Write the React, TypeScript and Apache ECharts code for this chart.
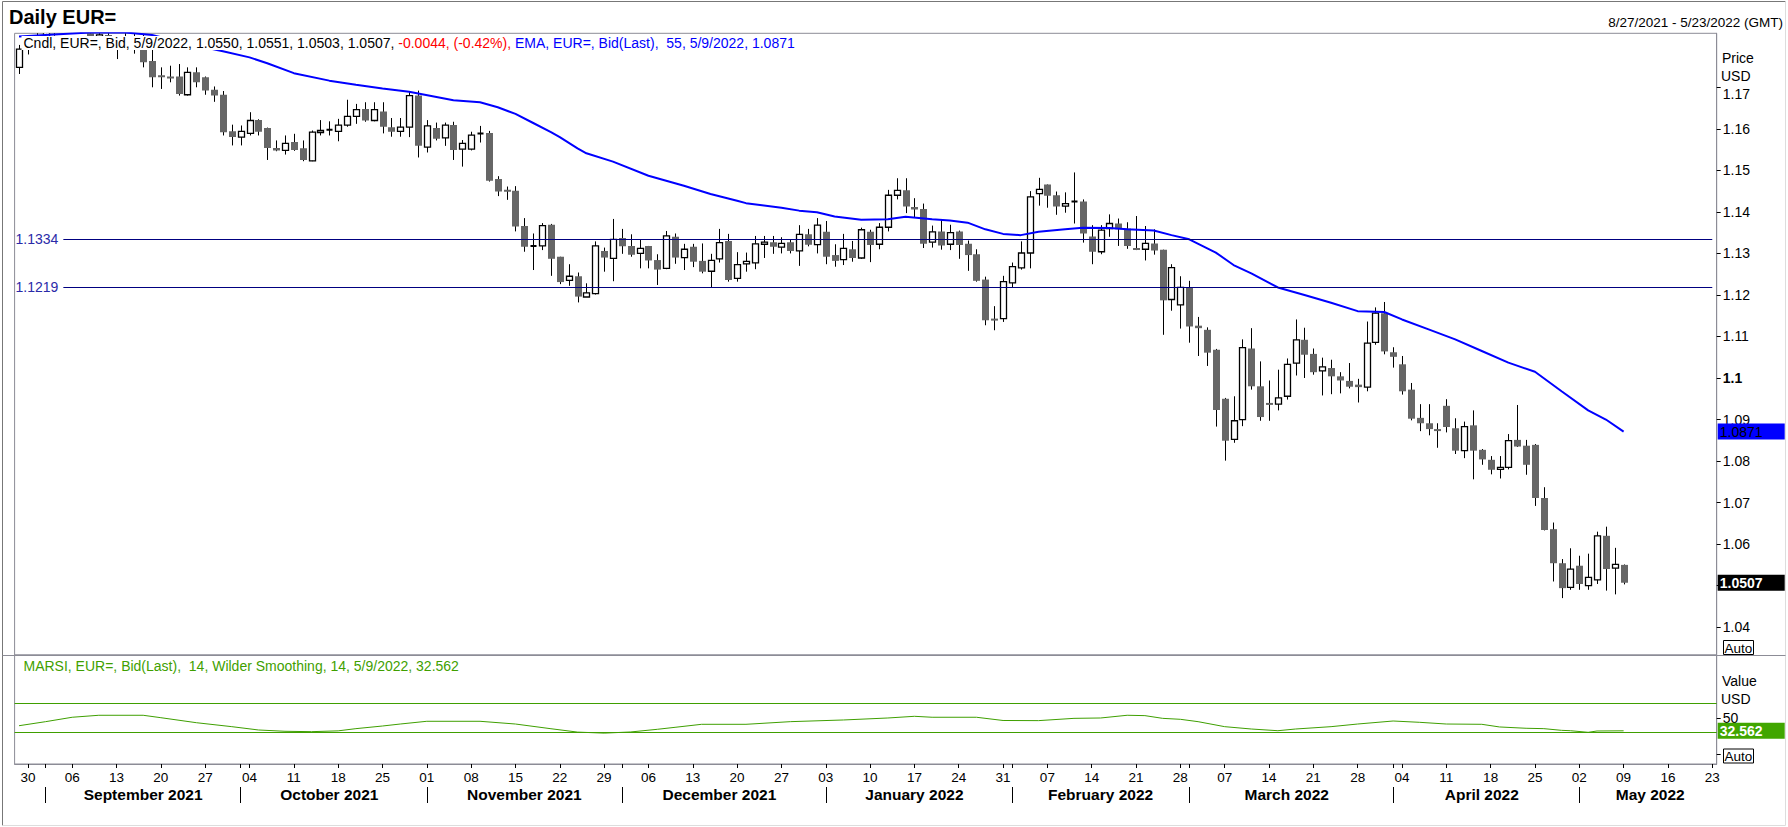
import React, { useEffect, useRef } from "react";
import * as echarts from "echarts";

const FONT = '"Liberation Sans", Arial, sans-serif';

// Trading-day categories (weekdays) from 8/27/2021 to 5/23/2022
function buildDates(): string[] {
  const out: string[] = [];
  const d = new Date(Date.UTC(2021, 7, 27));
  const end = Date.UTC(2022, 4, 23);
  while (d.getTime() <= end) {
    const wd = d.getUTCDay();
    if (wd !== 0 && wd !== 6) out.push(d.toISOString().slice(0, 10));
    d.setUTCDate(d.getUTCDate() + 1);
  }
  return out;
}
const dates = buildDates();

const open = [
  1.1748,1.1795,1.1799,1.1807,1.1837,1.1874,1.1881,1.1871,1.1840,1.1818,
  1.1826,1.1812,1.1806,1.1805,1.1820,1.1763,1.1729,1.1726,1.1726,1.1682,
  1.1736,1.1724,1.1694,1.1682,1.1594,1.1580,1.1589,1.1621,1.1602,1.1554,
  1.1548,1.1568,1.1553,1.1523,1.1592,1.1598,1.1594,1.1609,1.1630,1.1648,
  1.1620,1.1642,1.1604,1.1594,1.1604,1.1680,1.1556,1.1602,1.1578,1.1609,
  1.1551,1.1551,1.1589,1.1590,1.1479,1.1453,1.1451,1.1366,1.1318,1.1318,
  1.1369,1.1292,1.1235,1.1245,1.1195,1.1203,1.1306,1.1288,1.1337,1.1318,
  1.1300,1.1318,1.1284,1.1264,1.1340,1.1290,1.1316,1.1282,1.1257,1.1287,
  1.1330,1.1240,1.1275,1.1277,1.1322,1.1327,1.1315,1.1327,1.1306,1.1346,
  1.1321,1.1352,1.1296,1.1285,1.1310,1.1289,1.1352,1.1322,1.1363,1.1440,
  1.1452,1.1412,1.1407,1.1327,1.1353,1.1322,1.1353,1.1323,1.1298,1.1237,
  1.1143,1.1143,1.1229,1.1265,1.1301,1.1444,1.1466,1.1440,1.1414,1.1425,
  1.1425,1.1341,1.1304,1.1360,1.1372,1.1360,1.1313,1.1310,1.1324,1.1309,
  1.1189,1.1176,1.1218,1.1126,1.1116,1.1068,1.0950,1.0852,1.0900,1.1071,
  1.0980,1.0940,1.0937,1.0956,1.1036,1.1092,1.1058,1.1017,1.1024,1.1004,
  1.0993,1.0984,1.0978,1.1086,1.1156,1.1062,1.1033,1.0972,1.0904,1.0891,
  1.0877,1.0933,1.0879,1.0825,1.0886,1.0827,1.0803,1.0780,1.0785,1.0851,
  1.0837,1.0839,1.0711,1.0636,1.0554,1.0496,1.0548,1.0500,1.0514,1.0620,
  1.0542,1.0550,
];
const high = [
  1.1802,1.1810,1.1846,1.1857,1.1877,1.1909,1.1887,1.1875,1.1848,1.1844,
  1.1846,1.1815,1.1846,1.1830,1.1826,1.1790,1.1748,1.1752,1.1756,1.1748,
  1.1748,1.1726,1.1702,1.1691,1.1610,1.1608,1.1640,1.1623,1.1603,1.1572,
  1.1584,1.1588,1.1572,1.1596,1.1621,1.1618,1.1624,1.1670,1.1660,1.1664,
  1.1664,1.1664,1.1626,1.1626,1.1690,1.1692,1.1621,1.1615,1.1615,1.1617,
  1.1573,1.1593,1.1607,1.1595,1.1486,1.1461,1.1462,1.1385,1.1348,1.1373,
  1.1371,1.1292,1.1274,1.1254,1.1228,1.1329,1.1314,1.1383,1.1359,1.1346,
  1.1334,1.1318,1.1298,1.1354,1.1348,1.1323,1.1323,1.1324,1.1299,1.1359,
  1.1347,1.1303,1.1302,1.1342,1.1342,1.1342,1.1339,1.1333,1.1368,1.1359,
  1.1385,1.1378,1.1322,1.1347,1.1330,1.1362,1.1357,1.1373,1.1453,1.1481,
  1.1481,1.1433,1.1420,1.1367,1.1380,1.1369,1.1355,1.1331,1.1310,1.1244,
  1.1173,1.1246,1.1278,1.1329,1.1450,1.1482,1.1466,1.1449,1.1447,1.1495,
  1.1430,1.1368,1.1368,1.1394,1.1384,1.1375,1.1390,1.1366,1.1358,1.1309,
  1.1274,1.1245,1.1234,1.1147,1.1122,1.1070,1.0952,1.0956,1.1093,1.1120,
  1.1040,1.0994,1.1020,1.1047,1.1141,1.1121,1.1071,1.1049,1.1044,1.1014,
  1.1036,1.0998,1.1136,1.1170,1.1183,1.1074,1.1053,1.0988,1.0937,1.0937,
  1.0891,1.0949,1.0903,1.0895,1.0922,1.0829,1.0812,1.0812,1.0865,1.0935,
  1.0851,1.0841,1.0737,1.0652,1.0564,1.0590,1.0572,1.0577,1.0630,1.0642,
  1.0591,1.0551,
];
const low = [
  1.1732,1.1779,1.1790,1.1801,1.1824,1.1862,1.1858,1.1834,1.1802,1.1802,
  1.1808,1.1768,1.1797,1.1781,1.1748,1.1700,1.1696,1.1712,1.1680,1.1680,
  1.1700,1.1682,1.1665,1.1584,1.1560,1.1560,1.1584,1.1584,1.1525,1.1546,
  1.1538,1.1547,1.1522,1.1522,1.1584,1.1584,1.1570,1.1605,1.1612,1.1617,
  1.1618,1.1589,1.1581,1.1581,1.1580,1.1531,1.1543,1.1572,1.1559,1.1525,
  1.1509,1.1548,1.1567,1.1473,1.1438,1.1429,1.1353,1.1304,1.1260,1.1308,
  1.1246,1.1226,1.1222,1.1182,1.1195,1.1201,1.1256,1.1233,1.1299,1.1292,
  1.1264,1.1264,1.1224,1.1262,1.1275,1.1260,1.1267,1.1252,1.1219,1.1278,
  1.1232,1.1232,1.1256,1.1262,1.1289,1.1299,1.1300,1.1300,1.1270,1.1317,
  1.1300,1.1274,1.1268,1.1272,1.1280,1.1287,1.1279,1.1310,1.1353,1.1430,
  1.1397,1.1387,1.1313,1.1314,1.1309,1.1308,1.1287,1.1258,1.1232,1.1127,
  1.1115,1.1135,1.1218,1.1261,1.1264,1.1415,1.1410,1.1393,1.1398,1.1372,
  1.1326,1.1274,1.1298,1.1340,1.1318,1.1311,1.1308,1.1283,1.1297,1.1104,
  1.1162,1.1119,1.1085,1.1053,1.1029,1.0883,1.0801,1.0844,1.0884,1.0972,
  1.0897,1.0897,1.0922,1.0948,1.1006,1.1000,1.1008,1.0958,1.0961,1.0963,
  1.0975,1.0941,1.0968,1.1080,1.1057,1.1025,1.0960,1.0898,1.0872,1.0862,
  1.0832,1.0869,1.0817,1.0807,1.0756,1.0791,1.0768,1.0758,1.0780,1.0834,
  1.0767,1.0692,1.0633,1.0510,1.0470,1.0490,1.0490,1.0490,1.0504,1.0488,
  1.0479,1.0503,
];
const close = [
  1.1792,1.1799,1.1807,1.1837,1.1874,1.1881,1.1871,1.1840,1.1818,1.1826,
  1.1813,1.1806,1.1805,1.1820,1.1760,1.1724,1.1724,1.1722,1.1684,1.1736,
  1.1712,1.1692,1.1680,1.1592,1.1580,1.1594,1.1620,1.1593,1.1554,1.1548,
  1.1565,1.1549,1.1525,1.1592,1.1596,1.1598,1.1609,1.1630,1.1646,1.1620,
  1.1646,1.1605,1.1593,1.1604,1.1680,1.1559,1.1607,1.1576,1.1609,1.1549,
  1.1565,1.1585,1.1589,1.1475,1.1449,1.1450,1.1365,1.1316,1.1318,1.1367,
  1.1287,1.1231,1.1245,1.1196,1.1205,1.1318,1.1290,1.1334,1.1317,1.1297,
  1.1312,1.1283,1.1261,1.1342,1.1290,1.1310,1.1280,1.1256,1.1283,1.1326,
  1.1236,1.1273,1.1281,1.1323,1.1327,1.1316,1.1324,1.1306,1.1346,1.1321,
  1.1368,1.1292,1.1282,1.1312,1.1289,1.1357,1.1320,1.1363,1.1440,1.1452,
  1.1413,1.1406,1.1323,1.1352,1.1319,1.1350,1.1320,1.1296,1.1234,1.1139,
  1.1139,1.1232,1.1268,1.1301,1.1436,1.1454,1.1439,1.1413,1.1420,1.1425,
  1.1348,1.1304,1.1356,1.1372,1.1358,1.1318,1.1310,1.1324,1.1307,1.1187,
  1.1266,1.1218,1.1124,1.1120,1.1061,1.0923,1.0849,1.0897,1.1073,1.0980,
  1.0906,1.0939,1.0952,1.1033,1.1092,1.1056,1.1014,1.1027,1.1004,1.0994,
  1.0979,1.0978,1.1084,1.1156,1.1064,1.1051,1.0968,1.0902,1.0891,1.0877,
  1.0875,1.0882,1.0825,1.0883,1.0825,1.0804,1.0779,1.0785,1.0849,1.0835,
  1.0791,1.0711,1.0634,1.0554,1.0494,1.0540,1.0504,1.0520,1.0620,1.0540,
  1.0551,1.0507,
];

// EMA(55) at these bar indices
const emaIdx = [0,4,8,12,15,18,21,23,26,28,31,35,38,41,44,49,52,54,56,58,60,61,63,64,67,71,73,75,78,81,82,86,88,90,92,95,98,100,103,105,107,109,111,113,115,118,120,123,125,128,130,132,135,137,139,142,145,148,151,154,156,159,162,165,168,171,174,177,179,181];
const emaVal = [1.1822,1.1827,1.1832,1.1832,1.1826,1.1810,1.1796,1.1787,1.1772,1.1758,1.1734,1.1716,1.1706,1.1697,1.1689,1.1669,1.1664,1.1652,1.1636,1.1614,1.1592,1.1580,1.1553,1.1541,1.1521,1.1487,1.1475,1.1463,1.1443,1.1427,1.1421,1.1410,1.1403,1.1399,1.1389,1.1381,1.1382,1.1388,1.1382,1.1379,1.1374,1.1358,1.1347,1.1344,1.1352,1.1358,1.1362,1.1361,1.1358,1.1355,1.1344,1.1334,1.1302,1.1272,1.1252,1.1218,1.1200,1.1181,1.1161,1.1159,1.1141,1.1117,1.1093,1.1065,1.1037,1.1015,1.0968,1.0922,1.0900,1.0871];

// MARSI
const rsiIdx = [0,3,6,9,14,16,20,24,27,30,33,36,38,41,43,46,52,56,60,63,66,69,72,74,77,82,87,93,98,101,103,108,111,115,119,122,125,127,129,131,133,136,139,142,144,148,151,155,158,161,165,167,170,172,174,175,177,178,181];
const rsiVal = [39.5,45,51,53.7,53.7,50.4,43.6,38.2,33.7,31.9,31.4,32.5,35.5,39.1,41.8,45.5,45.5,41.8,35.4,30.8,29.4,31,34.6,37.3,41.4,41.4,45,47.3,50,52.3,51,51,46.6,46.4,49.5,50,53.7,53.2,49.5,48.2,45,38.2,35,32.7,35,38.2,41.8,45.9,44.1,41.8,41.4,37.8,36,35.5,33.2,32.7,30.5,32.3,32.562];

const priceTicks = [1.04,1.05,1.06,1.07,1.08,1.09,1.10,1.11,1.12,1.13,1.14,1.15,1.16,1.17];
const priceLabels = [1.04,1.06,1.07,1.08,1.09,1.10,1.11,1.12,1.13,1.14,1.15,1.16,1.17];
const refLevels = [1.1334, 1.1219];
const rsiLevels = [70, 30];
const rsiTicks = [0, 50];
const rsiLabels = [50];

const monthNames = ["January","February","March","April","May","June","July","August","September","October","November","December"];

const FRAME = "#8c8c96";
const GREEN = "#3f9f00";
const CLEAR = "rgba(0,0,0,0)";

function usDate(iso: string) {
  const [y, m, d] = iso.split("-");
  return `${+m}/${+d}/${y}`;
}

function buildOption() {
  const n = close.length;
  const last = n - 1;
  const isMonday = (i: number) => new Date(dates[i] + "T00:00:00Z").getUTCDay() === 1;
  const isMonthFirst = (i: number) => i > 0 && dates[i].slice(0, 7) !== dates[i - 1].slice(0, 7);
  // middle trading day of each month (for month captions)
  const monthMid = new Set<number>();
  let s = 0;
  for (let i = 1; i <= dates.length; i++) {
    if (i === dates.length || dates[i].slice(0, 7) !== dates[s].slice(0, 7)) {
      const cnt = i - s;
      if (cnt >= 5) monthMid.add(s + Math.floor(cnt / 2));
      s = i;
    }
  }

  const chg = close[last] - close[last - 1];
  const pct = (chg / close[last - 1]) * 100;
  const lastDate = usDate(dates[last]);
  const emaLast = emaVal[emaVal.length - 1];
  const rsiLast = rsiVal[rsiVal.length - 1];

  const candleData = open.map((o, i) => [i, o, close[i], low[i], high[i]]);

  const txt = (c: string) => ({ color: c, fontSize: 14, fontFamily: FONT, lineHeight: 15 });

  const boxLabel = (text: string, bg: string, fg: string, bold: boolean) => ({
    show: true, position: "end", distance: 1, formatter: text,
    backgroundColor: bg, color: fg, fontWeight: bold ? "bold" : "normal", fontSize: 14, fontFamily: FONT,
    width: 62, padding: [1, 3, 0, 2], lineHeight: 15,
  });

  return {
    animation: false,
    backgroundColor: "#fff",
    textStyle: { fontFamily: FONT },
    title: [
      { text: "Daily EUR=", left: 9, top: 7, padding: 0, textStyle: { fontSize: 20, fontWeight: "bold", color: "#000", fontFamily: FONT } },
      { text: `${usDate(dates[0])} - ${usDate(dates[dates.length - 1])} (GMT)`, right: 5, top: 15, padding: 0, textStyle: { fontSize: 13.5, fontWeight: "normal", color: "#000", fontFamily: FONT } },
      {
        text:
          `{k|Cndl, EUR=, Bid, ${lastDate}, ${open[last].toFixed(4)}, ${high[last].toFixed(4)}, ${low[last].toFixed(4)}, ${close[last].toFixed(4)}, }` +
          `{r|${chg.toFixed(4)}, (${pct.toFixed(2)}%), }` +
          `{b|EMA, EUR=, Bid(Last),  55, ${lastDate}, ${emaLast.toFixed(4)}}`,
        left: 21.5, top: 35.5, padding: [0, 2], backgroundColor: "#fff",
        textStyle: { fontSize: 14, fontWeight: "normal", fontFamily: FONT, rich: { k: txt("#000"), r: txt("#ff0000"), b: txt("#0000ff") } },
      },
      {
        text: `MARSI, EUR=, Bid(Last),  14, Wilder Smoothing, 14, ${lastDate}, ${rsiLast.toFixed(3)}`,
        left: 23.5, top: 658.5, padding: 0,
        textStyle: { fontSize: 14, fontWeight: "normal", color: GREEN, fontFamily: FONT },
      },
    ],
    grid: [
      { left: 14.6, width: 1702.1, top: 33.3, height: 621.7, show: true, borderColor: FRAME, borderWidth: 1, backgroundColor: "transparent" },
      { left: 14.6, width: 1702.1, top: 655, height: 109, show: true, borderColor: FRAME, borderWidth: 1, backgroundColor: "transparent" },
    ],
    xAxis: [
      {
        gridIndex: 0, type: "category", data: dates, boundaryGap: true, position: "bottom", offset: 132,
        axisLine: { show: false, onZero: false },
        axisTick: { show: true, alignWithLabel: true, interval: (i: number) => isMonthFirst(i), length: 16, lineStyle: { color: "#000" } },
        axisLabel: {
          show: true, interval: (i: number) => monthMid.has(i), margin: -1,
          formatter: (v: string) => `${monthNames[+v.slice(5, 7) - 1]} ${v.slice(0, 4)}`,
          fontSize: 15.5, fontWeight: "bold", color: "#000", fontFamily: FONT,
        },
        splitLine: { show: false },
      },
      {
        gridIndex: 1, type: "category", data: dates, boundaryGap: true, position: "bottom",
        axisLine: { show: true, onZero: false, lineStyle: { color: FRAME } },
        axisTick: { show: true, alignWithLabel: true, interval: (i: number) => isMonday(i) || isMonthFirst(i), length: 4, lineStyle: { color: "#000" } },
        axisLabel: { show: true, interval: (i: number) => isMonday(i), formatter: (v: string) => v.slice(8, 10), margin: 6, fontSize: 13.5, color: "#000", fontFamily: FONT },
        splitLine: { show: false },
      },
    ],
    yAxis: [
      {
        gridIndex: 0, type: "value", position: "right", min: 1.0333, max: 1.183,
        axisLine: { show: true, lineStyle: { color: FRAME } },
        axisTick: { show: true, length: 4, customValues: priceTicks, lineStyle: { color: "#000" } },
        axisLabel: {
          show: true, customValues: priceLabels, margin: 6, color: "#000", fontSize: 14, fontFamily: FONT, lineHeight: 14,
          formatter: (v: number) => {
            const t = String(Number(v.toFixed(2)));
            if (t === "1.1") return `{b|${t}}`;
            if (t === "1.17") return `\n${t}`;
            return t;
          },
          rich: { b: { fontWeight: "bold", fontSize: 14, color: "#000", fontFamily: FONT, lineHeight: 14 } },
        },
        splitLine: { show: false },
      },
      {
        gridIndex: 1, type: "value", position: "right", min: -12.6, max: 135.7,
        axisLine: { show: true, lineStyle: { color: FRAME } },
        axisTick: { show: true, length: 4, customValues: rsiTicks, lineStyle: { color: "#000" } },
        axisLabel: { show: true, customValues: rsiLabels, margin: 6, color: "#000", fontSize: 14, fontFamily: FONT },
        splitLine: { show: false },
      },
    ],
    series: [
      {
        type: "custom", name: "Cndl", xAxisIndex: 0, yAxisIndex: 0, clip: true,
        data: candleData,
        encode: { x: 0, y: [1, 2, 3, 4] },
        renderItem: (params: any, api: any) => {
          const i = api.value(0);
          const o = api.value(1), c = api.value(2), l = api.value(3), h = api.value(4);
          const pO = api.coord([i, o]);
          const pC = api.coord([i, c]);
          const pL = api.coord([i, l]);
          const pH = api.coord([i, h]);
          const x = Math.round(pO[0]) + 0.5;
          const bw = Math.round(api.size([1, 0])[0] * 0.72);
          const top = Math.min(pO[1], pC[1]);
          const bot = Math.max(pO[1], pC[1]);
          const children: any[] = [
            { type: "line", shape: { x1: x, y1: pH[1], x2: x, y2: pL[1] }, style: { stroke: "#000", lineWidth: 1 } },
          ];
          if (c === o) {
            children.push({ type: "line", shape: { x1: x - bw / 2, y1: top, x2: x + bw / 2, y2: top }, style: { stroke: "#000", lineWidth: 2 } });
          } else if (c > o) {
            children.push({ type: "rect", shape: { x: x - bw / 2, y: top, width: bw, height: Math.max(bot - top, 2) }, style: { fill: "#fff", stroke: "#000", lineWidth: 1.3 } });
          } else {
            children.push({ type: "rect", shape: { x: x - bw / 2 - 0.5, y: top, width: bw + 1, height: Math.max(bot - top, 2) }, style: { fill: "#666666" } });
          }
          return { type: "group", children };
        },
        z: 3,
      },
      {
        type: "line", name: "EMA", xAxisIndex: 0, yAxisIndex: 0,
        data: emaIdx.map((i, k) => [i, emaVal[k]]),
        symbol: "none", clip: true,
        lineStyle: { color: "#0000ff", width: 2 },
        z: 4,
        markLine: {
          silent: true, symbol: ["none", "none"], animation: false, precision: 4,
          data: [
            ...refLevels.map((v) => [
              {
                xAxis: 5, yAxis: v,
                lineStyle: { color: "#000080", width: 1, type: "solid" },
                label: { show: true, position: "start", distance: 5, formatter: v.toFixed(4), color: "#2a2aa8", fontSize: 14, fontFamily: FONT },
              },
              { xAxis: dates.length - 1, yAxis: v },
            ]),
            { yAxis: emaLast, lineStyle: { color: CLEAR, width: 1, type: "solid" }, label: boxLabel(emaLast.toFixed(4), "#0000ff", "#000", false) },
            { yAxis: close[last], lineStyle: { color: CLEAR, width: 1, type: "solid" }, label: boxLabel(close[last].toFixed(4), "#000", "#fff", true) },
          ],
        },
      },
      {
        type: "line", name: "MARSI", xAxisIndex: 1, yAxisIndex: 1,
        data: rsiIdx.map((i, k) => [i, rsiVal[k]]),
        symbol: "none",
        lineStyle: { color: GREEN, width: 1 },
        markLine: {
          silent: true, symbol: ["none", "none"], animation: false, precision: 4,
          data: [
            ...rsiLevels.map((v) => ({ yAxis: v, lineStyle: { color: GREEN, width: 1, type: "solid" }, label: { show: false } })),
            { yAxis: rsiLast, lineStyle: { color: CLEAR, width: 1, type: "solid" }, label: boxLabel(rsiLast.toFixed(3), "#41a600", "#fff", true) },
          ],
        },
      },
    ],
    graphic: [
      { type: "line", silent: true, shape: { x1: 2.5, y1: 1.5, x2: 1785.5, y2: 1.5 }, style: { stroke: "#777", lineWidth: 1 } },
      { type: "line", silent: true, shape: { x1: 2.5, y1: 1.5, x2: 2.5, y2: 825.5 }, style: { stroke: "#777", lineWidth: 1 } },
      { type: "line", silent: true, shape: { x1: 2.5, y1: 825.5, x2: 1785.5, y2: 825.5 }, style: { stroke: "#dddddd", lineWidth: 1 } },
      { type: "line", silent: true, shape: { x1: 1785.5, y1: 1.5, x2: 1785.5, y2: 825.5 }, style: { stroke: "#dddddd", lineWidth: 1 } },
      { type: "line", silent: true, shape: { x1: 2.5, y1: 655.5, x2: 1785.5, y2: 655.5 }, style: { stroke: FRAME, lineWidth: 1 } },
      { type: "text", silent: true, x: 1722, y: 58, style: { text: "Price", fontSize: 14, fontFamily: FONT, fill: "#000", verticalAlign: "middle" } },
      { type: "text", silent: true, x: 1721, y: 76, style: { text: "USD", fontSize: 14, fontFamily: FONT, fill: "#000", verticalAlign: "middle" } },
      { type: "text", silent: true, x: 1722, y: 681, style: { text: "Value", fontSize: 14, fontFamily: FONT, fill: "#000", verticalAlign: "middle" } },
      { type: "text", silent: true, x: 1721, y: 699, style: { text: "USD", fontSize: 14, fontFamily: FONT, fill: "#000", verticalAlign: "middle" } },
      { type: "rect", silent: true, shape: { x: 1723.5, y: 640.5, width: 30, height: 14 }, style: { fill: "#fff", stroke: "#000", lineWidth: 1 } },
      { type: "text", silent: true, x: 1738.5, y: 648, style: { text: "Auto", fontSize: 13.5, fontFamily: FONT, fill: "#000", align: "center", verticalAlign: "middle" } },
      { type: "rect", silent: true, shape: { x: 1723.5, y: 749, width: 30, height: 14 }, style: { fill: "#fff", stroke: "#000", lineWidth: 1 } },
      { type: "text", silent: true, x: 1738.5, y: 756.5, style: { text: "Auto", fontSize: 13.5, fontFamily: FONT, fill: "#000", align: "center", verticalAlign: "middle" } },
    ],
  };
}

export default function App() {
  const ref = useRef<HTMLDivElement>(null);
  useEffect(() => {
    document.body.style.margin = "0";
    if (!ref.current) return;
    const chart = echarts.init(ref.current, null, { renderer: "svg" });
    chart.setOption(buildOption() as any);
    return () => chart.dispose();
  }, []);
  return <div ref={ref} style={{ width: 1788, height: 827, position: "absolute", left: 0, top: 0, background: "#fff" }} />;
}
